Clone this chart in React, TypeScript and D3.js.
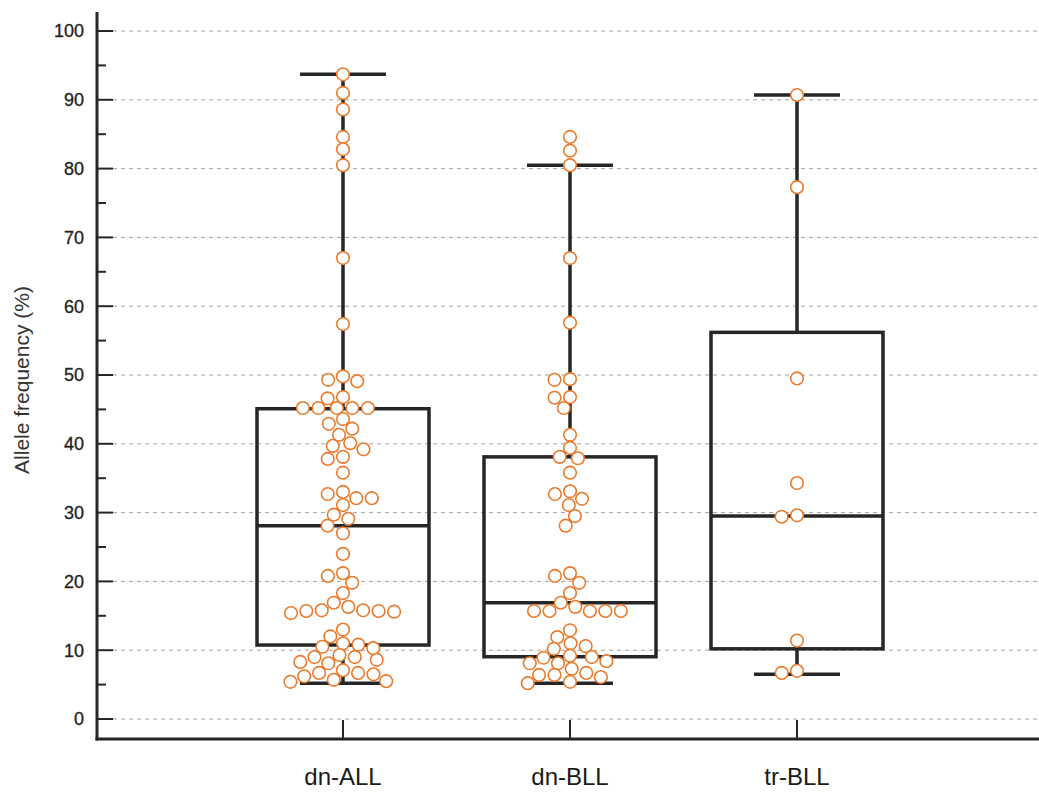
import React from "react";
import * as d3 from "d3";

const categories = ["dn-ALL", "dn-BLL", "tr-BLL"];

const dnALL = [
  93.7, 91.0, 88.6, 84.6, 82.8, 80.5, 67.0, 57.4,
  49.1, 49.3, 49.8, 46.6, 46.8,
  45.2, 45.2, 45.2, 45.2, 45.2,
  43.6, 42.9, 42.2, 41.3, 40.1, 39.7, 39.2, 38.1, 37.8, 35.8,
  33.0, 32.7, 32.1, 32.1, 31.1, 29.7, 29.1, 28.1, 27.0, 24.0,
  21.2, 20.8, 19.8, 18.3, 16.9,
  15.4, 15.7, 15.7, 15.6, 15.8, 15.8, 16.3,
  13.0, 12.0, 11.0, 10.3, 10.5, 10.8, 9.0, 9.0, 9.3, 8.1, 8.3, 8.6,
  6.7, 7.1, 6.2, 6.5, 6.7, 5.4, 5.5, 5.7,
];

const dnBLL = [
  84.6, 82.6, 80.5, 67.0, 57.6, 49.3, 49.4, 46.7, 46.8, 45.2, 41.3, 39.4,
  37.9, 38.1, 35.8, 32.7, 33.1, 32.0, 31.1, 29.5, 28.1,
  21.2, 20.8, 19.8, 18.3, 15.7, 15.7, 15.7, 15.7, 15.7, 16.3, 16.9,
  12.9, 11.9, 11.0, 10.6, 10.2, 8.1, 8.1, 8.4, 8.9, 9.0, 9.2,
  6.7, 7.3, 6.1, 6.4, 6.4, 5.2, 5.4,
];

const trBLL = [90.7, 77.3, 49.5, 34.3, 29.4, 29.6, 11.4, 6.7, 7.0];

const seriesValues = [dnALL, dnBLL, trBLL];

const boxQ1 = [10.75, 9.05, 10.2];
const boxMedian = [28.1, 16.9, 29.5];
const boxQ3 = [45.1, 38.1, 56.2];
const whiskerLow = [5.2, 5.2, 6.5];
const whiskerHigh = [93.7, 80.5, 90.7];

const yTicks = [0, 10, 20, 30, 40, 50, 60, 70, 80, 90, 100];
const yMinorTicks = [5, 15, 25, 35, 45, 55, 65, 75, 85, 95];

const W = 1039;
const H = 794;
const axisX = 97;
const axisY = 739;
const FONT = "'Liberation Sans', Arial, Helvetica, sans-serif";

const y = d3.scaleLinear().domain([0, 100]).range([719, 31]);
const x = d3.scalePoint<string>().domain(categories).range([343, 797]);

const BOX_HALF = 86;
const CAP_HALF = 43;
const R = 6.3;
const DX = 15.5;
const DY = 12;

function swarm(values: number[]): { v: number; dx: number }[] {
  const sorted = [...values].sort((a, b) => b - a);
  const placed: { yy: number; dx: number }[] = [];
  const out: { v: number; dx: number }[] = [];
  for (const v of sorted) {
    const yy = y(v);
    const neighbors = placed.filter((p) => Math.abs(p.yy - yy) < DY);
    const cands = [0];
    for (const n of neighbors) {
      const t = (n.yy - yy) / DY;
      const off = DX * Math.sqrt(Math.max(0, 1 - t * t));
      cands.push(n.dx + off, n.dx - off);
    }
    cands.sort((a, b) => Math.abs(a) - Math.abs(b) || a - b);
    let chosen = 0;
    for (const c of cands) {
      const ok = neighbors.every(
        (n) => ((n.dx - c) / DX) ** 2 + ((n.yy - yy) / DY) ** 2 >= 0.999
      );
      if (ok) {
        chosen = c;
        break;
      }
    }
    placed.push({ yy, dx: chosen });
    out.push({ v, dx: chosen });
  }
  return out;
}

export default function App() {
  const stroke = "#262626";
  const orange = "#E97B2E";
  return (
    <svg
      width={W}
      height={H}
      style={{ position: "absolute", left: 0, top: 0, background: "#fff" }}
    >
      <rect x={0} y={0} width={W} height={H} fill="#fff" />
      {yTicks.map((t) => (
        <line
          key={"g" + t}
          x1={axisX + 16}
          x2={W}
          y1={y(t)}
          y2={y(t)}
          stroke="#a0a0a0"
          strokeWidth={1}
          strokeDasharray="4,4"
        />
      ))}
      {categories.map((c, i) => {
        const cx = x(c) as number;
        return (
          <g key={"b" + c}>
            <line x1={cx} x2={cx} y1={y(whiskerHigh[i])} y2={y(boxQ3[i])} stroke={stroke} strokeWidth={3.5} />
            <line x1={cx} x2={cx} y1={y(boxQ1[i])} y2={y(whiskerLow[i])} stroke={stroke} strokeWidth={3.5} />
            <line x1={cx - CAP_HALF} x2={cx + CAP_HALF} y1={y(whiskerHigh[i])} y2={y(whiskerHigh[i])} stroke={stroke} strokeWidth={3.5} />
            <line x1={cx - CAP_HALF} x2={cx + CAP_HALF} y1={y(whiskerLow[i])} y2={y(whiskerLow[i])} stroke={stroke} strokeWidth={3.5} />
            <rect
              x={cx - BOX_HALF}
              y={y(boxQ3[i])}
              width={BOX_HALF * 2}
              height={y(boxQ1[i]) - y(boxQ3[i])}
              fill="none"
              stroke={stroke}
              strokeWidth={3.5}
            />
            <line x1={cx - BOX_HALF} x2={cx + BOX_HALF} y1={y(boxMedian[i])} y2={y(boxMedian[i])} stroke={stroke} strokeWidth={3.5} />
          </g>
        );
      })}
      {categories.map((c, i) => {
        const cx = x(c) as number;
        return (
          <g key={"p" + c}>
            {swarm(seriesValues[i]).map((p, j) => (
              <circle
                key={j}
                cx={cx + p.dx}
                cy={y(p.v)}
                r={R}
                fill="#fff"
                stroke={orange}
                strokeWidth={1.6}
              />
            ))}
          </g>
        );
      })}
      <line x1={axisX} x2={axisX} y1={12} y2={axisY + 1.5} stroke={stroke} strokeWidth={3} />
      {yTicks.map((t) => (
        <g key={"t" + t}>
          <line x1={axisX} x2={axisX + 16} y1={y(t)} y2={y(t)} stroke={stroke} strokeWidth={2} />
          <text
            x={84}
            y={y(t)}
            dy="0.35em"
            textAnchor="end"
            fontFamily={FONT}
            fontSize={18}
            fill="#222"
            stroke="#222"
            strokeWidth={0.3}
          >
            {t}
          </text>
        </g>
      ))}
      {yMinorTicks.map((t) => (
        <line key={"m" + t} x1={axisX} x2={axisX + 9} y1={y(t)} y2={y(t)} stroke={stroke} strokeWidth={2} />
      ))}
      <line x1={axisX - 1.5} x2={W} y1={axisY} y2={axisY} stroke={stroke} strokeWidth={3} />
      {categories.map((c) => (
        <g key={"x" + c}>
          <line x1={x(c)} x2={x(c)} y1={axisY} y2={axisY - 19} stroke={stroke} strokeWidth={2} />
          <text
            x={x(c)}
            y={785}
            textAnchor="middle"
            fontFamily={FONT}
            fontSize={24}
            fill="#1a1a1a"
          >
            {c}
          </text>
        </g>
      ))}
      <text
        transform={`translate(29,${(y(0) + y(100)) / 2 + 5}) rotate(-90)`}
        textAnchor="middle"
        fontFamily={FONT}
        fontSize={21}
        fill="#333"
      >
        Allele frequency (%)
      </text>
    </svg>
  );
}
